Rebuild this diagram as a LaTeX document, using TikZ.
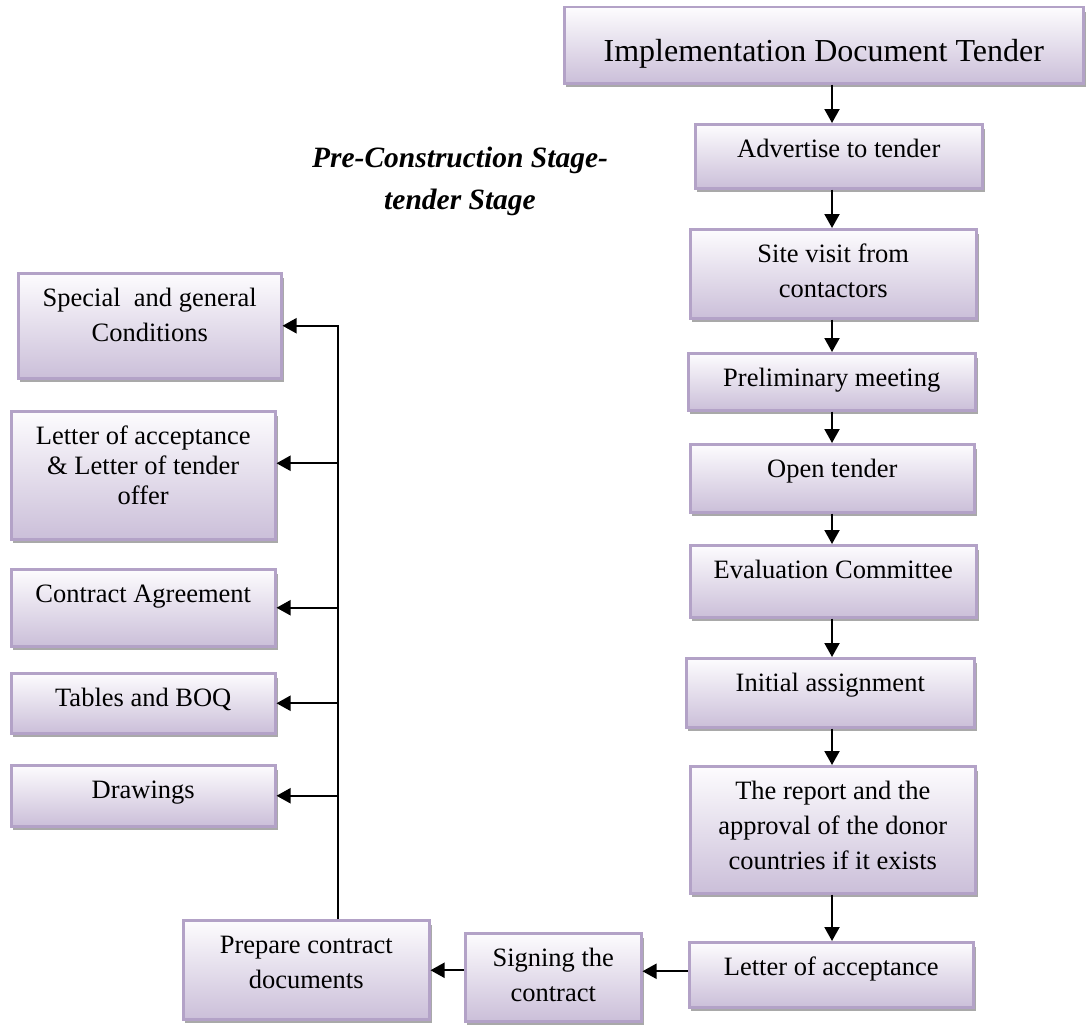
\documentclass[tikz,border=0pt]{standalone}
\usepackage{fontspec}
\setmainfont{Liberation Serif}
\usetikzlibrary{arrows.meta,calc}

\definecolor{boxline}{HTML}{B3A2C7}
\definecolor{boxtop}{HTML}{FDFCFE}
\definecolor{boxbottom}{HTML}{CBBFD9}
\definecolor{boxshade}{HTML}{A9A9A9}

\newcommand\strutx{\rule{0pt}{0.75em}}

\tikzset{
  flow/.style={rectangle, draw=boxline, line width=2.5pt,
    top color=boxtop, bottom color=boxbottom, inner sep=0pt},
  flowtext/.style={anchor=north, inner sep=0pt, align=center,
    font=\fontsize{26.5}{35}\selectfont, yshift=-14pt},
  arr/.style={line width=2pt, -{Triangle[length=14pt,width=15pt]}},
}

% \flowbox[text options]{name}{x1}{y1}{x2}{y2}{text}
\newcommand\flowbox[7][]{%
  \fill[boxshade] ({#3+3},{#4+6}) rectangle ({#5+4},{#6+5});
  \node[flow, minimum width={#5-#3}, minimum height={#6-#4},
        anchor=north west] (#2) at (#3,#4) {};
  \node[flowtext, #1] (#2-t) at (#2.north) {\strutx #7};
}

\begin{document}
\begin{tikzpicture}[x=1pt, y=-1pt]
\useasboundingbox (0,0) rectangle (1086,1025);

% main tender sequence
\flowbox[font=\fontsize{32}{38}\selectfont, yshift=-17pt]{top}{563}{6}{1082}{82}{Implementation Document Tender}
\flowbox{adv}{694}{123}{981}{187}{Advertise to tender}
\flowbox{site}{689}{228}{975}{317}{Site visit from\\contactors}
\flowbox{prel}{687}{352}{974}{409}{Preliminary meeting}
\flowbox{open}{689}{443}{973}{511}{Open tender}
\flowbox{eval}{689}{544}{975}{616}{Evaluation Committee}
\flowbox{init}{685}{657}{973}{726}{Initial assignment}
\flowbox{rep}{689}{765}{974}{892}{The report and the\\approval of the donor\\countries if it exists}
\flowbox{lett}{688}{941}{972}{1006}{Letter of acceptance}
\flowbox{sign}{464}{932}{640}{1020}{Signing the\\contract}
\flowbox{prep}{182}{919}{428}{1018}{Prepare contract\\documents}

% contract documents
\flowbox{spec}{17}{272}{280}{377}{Special\ \ and general\\Conditions}
\flowbox{lacc}{10}{410}{274}{538}{Letter of acceptance\\[-5pt]\& Letter of tender\\[-5pt]offer}
\flowbox{cagr}{10}{568}{274}{645}{Contract Agreement}
\flowbox{tab}{10}{672}{274}{732}{Tables and BOQ}
\flowbox{drw}{10}{764}{274}{825}{Drawings}

% stage heading
\node[anchor=north, inner sep=0pt, align=center,
      font=\fontsize{29.5}{42}\selectfont\bfseries\itshape] (stage) at (460,145)
  {\strutx Pre-Construction Stage-\\tender Stage};

% connectors
\coordinate (col) at (832,0);
\coordinate (bus) at (338,0);
\draw[arr] (top.south -| col) -- (adv.north -| col);
\draw[arr] (adv.south -| col) -- (site.north -| col);
\draw[arr] (site.south -| col) -- (prel.north -| col);
\draw[arr] (prel.south -| col) -- (open.north -| col);
\draw[arr] (open.south -| col) -- (eval.north -| col);
\draw[arr] (eval.south -| col) -- (init.north -| col);
\draw[arr] (init.south -| col) -- (rep.north -| col);
\draw[arr] (rep.south -| col) -- (lett.north -| col);

\coordinate (lettout) at ($(lett.west)+(0,-3.5)$);
\coordinate (signout) at ($(sign.west)+(0,-7)$);
\draw[arr] (lettout) -- (lettout -| sign.east);
\draw[arr] (signout) -- (signout -| prep.east);

\coordinate (laccin) at ($(lacc.east)+(0,-12)$);
\draw[arr] (prep.north -| bus) |- (spec.east);
\draw[arr] (laccin -| bus) -- (laccin);
\draw[arr] (cagr.east -| bus) -- (cagr.east);
\draw[arr] (tab.east -| bus) -- (tab.east);
\draw[arr] (drw.east -| bus) -- (drw.east);
\end{tikzpicture}
\end{document}
